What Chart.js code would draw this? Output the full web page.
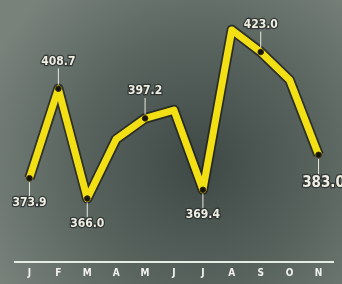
<!DOCTYPE html>
<html>
<head>
<meta charset="utf-8">
<script src="https://cdn.jsdelivr.net/npm/chart.js@4/dist/chart.umd.min.js"></script>
<style>
  html, body { margin: 0; padding: 0; background: #5d6764; }
  #wrap { width: 342px; height: 284px; position: relative; }
</style>
</head>
<body>
<div id="wrap"><canvas id="chart"></canvas></div>
<script>
// Monthly values
const months = ['J', 'F', 'M', 'A', 'M', 'J', 'J', 'A', 'S', 'O', 'N'];
const values = [373.9, 408.7, 366.0, 389.1, 397.2, 400.4, 369.4, 431.6, 423.0, 412.1, 383.0];
// Which months get a printed value, and where it goes
const labelled = [true, true, true, false, true, false, true, false, true, false, true];
const labelSide = ['below', 'above', 'below', null, 'above', null, 'below', null, 'above', null, 'below'];

// Slate background with darker middle
const backgroundPlugin = {
    id: 'slateBackground',
    beforeDraw(chart) {
        const ctx = chart.ctx;
        const w = chart.width, h = chart.height;
        const g = ctx.createRadialGradient(200, 165, 10, 200, 165, 230);
        g.addColorStop(0, '#404a47');
        g.addColorStop(0.5, '#59635e');
        g.addColorStop(1, '#78827b');
        ctx.save();
        ctx.fillStyle = g;
        ctx.fillRect(0, 0, w, h);
        ctx.restore();
    }
};

// Value labels with small leader lines
const valueLabelPlugin = {
    id: 'valueLabels',
    afterDatasetsDraw(chart) {
        const ctx = chart.ctx;
        const meta = chart.getDatasetMeta(0);
        ctx.save();
        meta.data.forEach((pt, i) => {
            if (!labelled[i]) return;
            const isLast = i === values.length - 1;
            const above = labelSide[i] === 'above';
            const size = isLast ? 15 : 12;
            const gap = isLast ? 28 : (above ? 27 : 25);
            const ty = above ? pt.y - gap : pt.y + gap;

            // leader line
            ctx.strokeStyle = '#e8e8dc';
            ctx.lineWidth = 1;
            ctx.beginPath();
            ctx.moveTo(pt.x, above ? pt.y - 4 : pt.y + 4);
            ctx.lineTo(pt.x, above ? ty + size * 0.55 : ty - size * 0.55);
            ctx.stroke();

            ctx.font = 'bold ' + size + 'px "DejaVu Sans Condensed", "DejaVu Sans", sans-serif';
            ctx.textAlign = 'center';
            ctx.textBaseline = 'middle';
            ctx.lineWidth = 2.5;
            ctx.strokeStyle = 'rgba(40,45,44,0.8)';
            ctx.strokeText(values[i].toFixed(1), pt.x + (isLast ? 5 : 0), ty);
            ctx.fillStyle = '#efeee2';
            ctx.fillText(values[i].toFixed(1), pt.x + (isLast ? 5 : 0), ty);
        });
        ctx.restore();
    }
};

const ctx = document.getElementById('chart').getContext('2d');
window.salesChart = new Chart(ctx, {
    type: 'line',
    data: {
        labels: months,
        datasets: [{
            data: values,
            borderColor: '#f3e014',
            borderWidth: 7,
            borderJoinStyle: 'round',
            pointRadius: labelled.map(l => (l ? 2.8 : 0)),
            pointBackgroundColor: '#141410',
            pointBorderColor: '#3a2a00',
            pointBorderWidth: 1,
            tension: 0
        }, {
            // dark outline under the yellow line
            data: values,
            borderColor: 'rgba(28,30,22,0.75)',
            borderWidth: 10.5,
            borderJoinStyle: 'round',
            pointRadius: 0,
            tension: 0
        }]
    },
    options: {
        responsive: true,
        maintainAspectRatio: false,
        animation: false,
        layout: {
            padding: { top: 4, left: 15, right: 9, bottom: 0 }
        },
        plugins: {
            legend: { display: false },
            tooltip: { enabled: false }
        },
        scales: {
            x: {
                offset: true,
                grid: { display: false, drawTicks: false },
                border: { color: '#e6ebe4', width: 2 },
                ticks: {
                    color: '#f2f3ee',
                    padding: 5,
                    font: { family: '"DejaVu Sans Condensed", sans-serif', size: 10, weight: 'bold' }
                }
            },
            y: {
                display: false,
                min: 341.3,
                max: 441.3
            }
        }
    },
    plugins: [backgroundPlugin, valueLabelPlugin]
});
</script>
</body>
</html>
